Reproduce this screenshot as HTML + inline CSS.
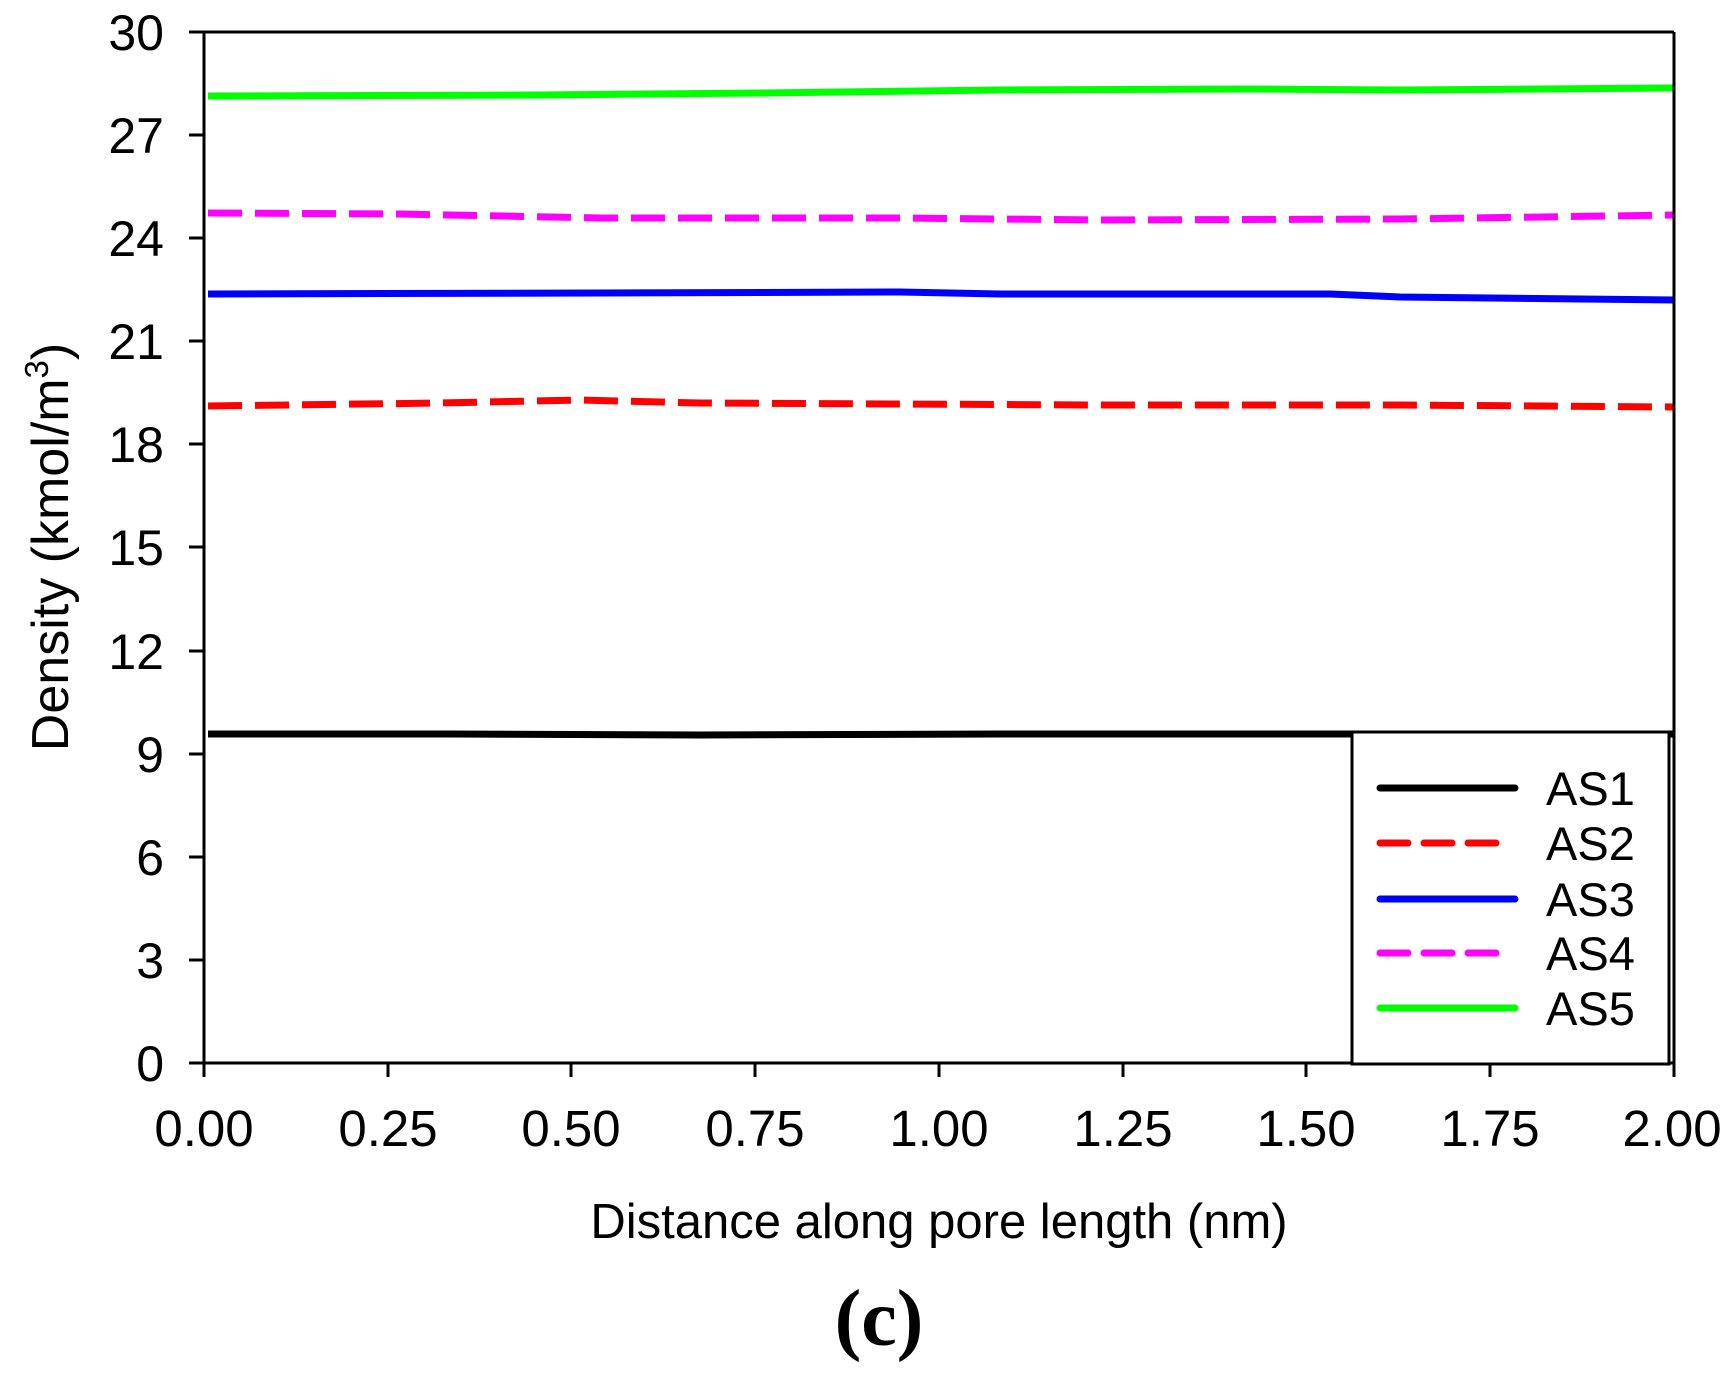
<!DOCTYPE html>
<html><head><style>body{margin:0;background:#fff}svg{display:block}</style></head>
<body>
<svg width="1735" height="1373" viewBox="0 0 1735 1373" xmlns="http://www.w3.org/2000/svg" font-family="Liberation Sans, Arial, sans-serif">
<rect width="1735" height="1373" fill="#fff"/>
<g fill="none" stroke-width="7" stroke-linejoin="round">
<polyline stroke="#00ff00" points="208,96 540,95 760,93 1000,90 1250,89 1400,90 1674,88"/>
<polyline stroke="#ff00ff" stroke-dasharray="34,13" points="208,213 400,214 600,218 900,218 1100,220 1400,219 1674,215"/>
<polyline stroke="#0000ff" points="208,294 600,293 900,292 1000,294 1330,294 1400,297 1674,300"/>
<polyline stroke="#ff0000" stroke-dasharray="34,13" points="208,406 440,403 580,400 700,403 900,404 1100,405 1400,405 1674,407"/>
<polyline stroke="#000" points="208,734 450,734 700,735 1000,734 1674,734"/>
</g>
<g stroke="#000" stroke-width="3" fill="none">
<line x1="204" y1="32" x2="1674" y2="32"/>
<line x1="204" y1="32" x2="204" y2="1063"/>
<line x1="1674" y1="32" x2="1674" y2="1063"/>
<line x1="189" y1="1063" x2="1674" y2="1063"/>
<line x1="189" y1="32" x2="204" y2="32"/>
<line x1="189" y1="135" x2="204" y2="135"/>
<line x1="189" y1="238" x2="204" y2="238"/>
<line x1="189" y1="341" x2="204" y2="341"/>
<line x1="189" y1="444" x2="204" y2="444"/>
<line x1="189" y1="547" x2="204" y2="547"/>
<line x1="189" y1="651" x2="204" y2="651"/>
<line x1="189" y1="754" x2="204" y2="754"/>
<line x1="189" y1="857" x2="204" y2="857"/>
<line x1="189" y1="960" x2="204" y2="960"/>
<line x1="204" y1="1063" x2="204" y2="1077"/>
<line x1="388" y1="1063" x2="388" y2="1077"/>
<line x1="571" y1="1063" x2="571" y2="1077"/>
<line x1="755" y1="1063" x2="755" y2="1077"/>
<line x1="939" y1="1063" x2="939" y2="1077"/>
<line x1="1123" y1="1063" x2="1123" y2="1077"/>
<line x1="1306" y1="1063" x2="1306" y2="1077"/>
<line x1="1490" y1="1063" x2="1490" y2="1077"/>
<line x1="1674" y1="1063" x2="1674" y2="1077"/>
</g>
<g font-size="50" text-anchor="end" fill="#000">
<text x="164" y="50">30</text><text x="164" y="153">27</text><text x="164" y="256">24</text>
<text x="164" y="359">21</text><text x="164" y="462">18</text><text x="164" y="565">15</text>
<text x="164" y="669">12</text><text x="164" y="772">9</text><text x="164" y="875">6</text>
<text x="164" y="978">3</text><text x="164" y="1081">0</text>
</g>
<g font-size="51" text-anchor="middle" fill="#000">
<text x="204" y="1146">0.00</text><text x="388" y="1146">0.25</text><text x="571" y="1146">0.50</text>
<text x="755" y="1146">0.75</text><text x="939" y="1146">1.00</text><text x="1123" y="1146">1.25</text>
<text x="1306" y="1146">1.50</text><text x="1490" y="1146">1.75</text><text x="1672" y="1146">2.00</text>
</g>
<text x="939" y="1238" font-size="49" text-anchor="middle">Distance along pore length (nm)</text>
<text transform="translate(68,547) rotate(-90)" font-size="52" text-anchor="middle">Density (kmol/m<tspan font-size="33" dy="-20">3</tspan><tspan dy="20">)</tspan></text>
<text x="879" y="1345" font-size="80" font-weight="bold" text-anchor="middle" font-family="Liberation Serif, serif">(c)</text>
<rect x="1352" y="732" width="317" height="332" fill="#fff" stroke="#000" stroke-width="3"/>
<g stroke-width="7" stroke-linecap="round">
<line x1="1380" y1="788" x2="1515" y2="788" stroke="#000"/>
<line x1="1380" y1="843" x2="1498" y2="843" stroke="#ff0000" stroke-dasharray="28,16"/>
<line x1="1380" y1="899" x2="1515" y2="899" stroke="#0000ff"/>
<line x1="1380" y1="953" x2="1498" y2="953" stroke="#ff00ff" stroke-dasharray="28,16"/>
<line x1="1380" y1="1008" x2="1515" y2="1008" stroke="#00ff00"/>
</g>
<g font-size="47" fill="#000">
<text x="1546" y="805">AS1</text><text x="1546" y="860">AS2</text><text x="1546" y="916">AS3</text>
<text x="1546" y="970">AS4</text><text x="1546" y="1025">AS5</text>
</g>
</svg>
</body></html>
